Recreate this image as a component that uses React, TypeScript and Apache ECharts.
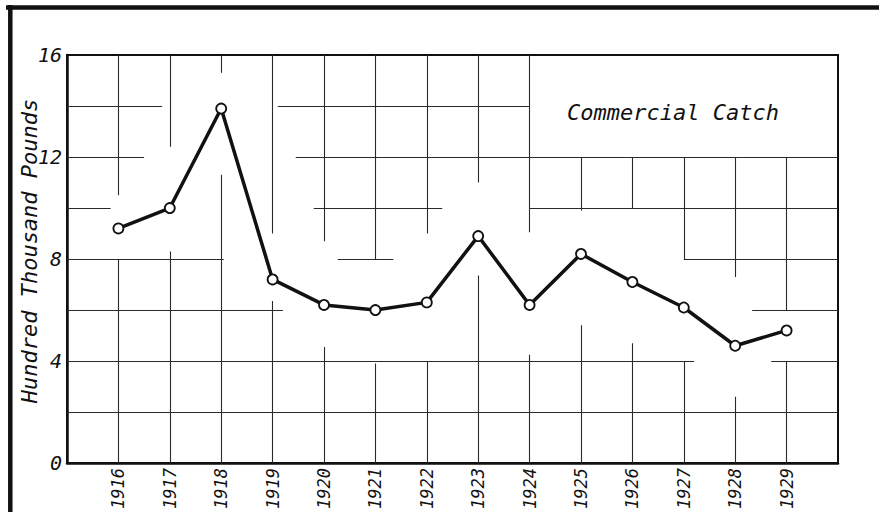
import React, { useEffect, useRef } from "react";
import * as echarts from "echarts";

// ---- Data ----
const years = [1916, 1917, 1918, 1919, 1920, 1921, 1922, 1923, 1924, 1925, 1926, 1927, 1928, 1929];
const catchValues = [9.2, 10.0, 13.9, 7.2, 6.2, 6.0, 6.3, 8.9, 6.2, 8.2, 7.1, 6.1, 4.6, 5.2];
const yTicks = [0, 4, 8, 12, 16];
const chartLabel = "Commercial Catch";
const yAxisName = "Hundred Thousand Pounds";

// Broken (hand-drawn) grid: vertical segments [year, fromValue, toValue]
const vGridSegments: [number, number, number][] = [
  [1916, 10.5, 16], [1916, 0, 8],
  [1917, 12.4, 16], [1917, 0, 8.3],
  [1918, 15.3, 16], [1918, 0, 11.3],
  [1919, 9.0, 16], [1919, 0, 6.35],
  [1920, 8.7, 16], [1920, 0, 4.55],
  [1921, 8.0, 16], [1921, 0, 3.9],
  [1922, 9.0, 16], [1922, 0, 4.0],
  [1923, 11.0, 16], [1923, 0, 7.35],
  [1924, 9.05, 16], [1924, 0, 4.25],
  [1925, 9.9, 12], [1925, 0, 5.4],
  [1926, 10.0, 12], [1926, 0, 4.7],
  [1927, 8.0, 12], [1927, 0, 4.0],
  [1928, 7.3, 12], [1928, 0, 2.6],
  [1929, 6.0, 12], [1929, 0, 4.0],
];
// horizontal segments [value, fromYear, toYear]
const hGridSegments: [number, number, number][] = [
  [14, 1915, 1916.85], [14, 1919.1, 1924],
  [12, 1915, 1916.5], [12, 1919.45, 1930],
  [10, 1915, 1915.85], [10, 1919.8, 1922.3], [10, 1924, 1930],
  [8, 1915, 1918.05], [8, 1920.27, 1921.35], [8, 1927, 1930],
  [6, 1915, 1919.2], [6, 1928.33, 1930],
  [4, 1915, 1927.2], [4, 1928.7, 1930],
  [2, 1915, 1930],
];

const LETTER_FONT = "'DejaVu Sans Mono', monospace";

export default function App() {
  const ref = useRef<HTMLDivElement>(null);

  useEffect(() => {
    if (!ref.current) return;
    const chart = echarts.init(ref.current, null, { renderer: "svg" });

    const gridLines = [
      ...vGridSegments.map(([x, a, b]) => ({ coords: [[x, a], [x, b]] })),
      ...hGridSegments.map(([y, a, b]) => ({ coords: [[a, y], [b, y]] })),
    ];

    chart.setOption({
      animation: false,
      backgroundColor: "#ffffff",
      grid: {
        left: 67,
        top: 55,
        right: 41,
        bottom: 47,
        show: true,
        borderColor: "#111",
        borderWidth: 2,
        backgroundColor: "transparent",
      },
      xAxis: {
        type: "value",
        min: 1915,
        max: 1930,
        interval: 1,
        axisLine: { show: true, lineStyle: { color: "#111", width: 2.5 } },
        axisTick: { show: false },
        splitLine: { show: false },
        axisLabel: {
          rotate: 90,
          margin: 5,
          fontFamily: LETTER_FONT,
          fontStyle: "italic",
          fontSize: 17,
          color: "#111",
          formatter: (v: number) => (years.includes(v) ? String(v) : ""),
        },
      },
      yAxis: {
        type: "value",
        min: yTicks[0],
        max: yTicks[yTicks.length - 1],
        interval: 4,
        axisLine: { show: true, lineStyle: { color: "#111", width: 2.5 } },
        axisTick: { show: false },
        splitLine: { show: false },
        axisLabel: {
          margin: 5,
          fontFamily: LETTER_FONT,
          fontStyle: "italic",
          fontSize: 20,
          color: "#111",
        },
      },
      graphic: [
        {
          type: "line",
          shape: { x1: 6, y1: 7.5, x2: 879, y2: 7.5 },
          style: { stroke: "#111", lineWidth: 4.5 },
        },
        {
          type: "line",
          shape: { x1: 10.3, y1: 5, x2: 10.3, y2: 512 },
          style: { stroke: "#111", lineWidth: 4.5 },
        },
        {
          type: "text",
          x: 29,
          y: 251,
          rotation: Math.PI / 2,
          style: {
            text: yAxisName,
            fontFamily: LETTER_FONT,
            fontStyle: "italic",
            fontSize: 22,
            fill: "#111",
            textAlign: "center",
            textVerticalAlign: "middle",
          },
        },
        {
          type: "text",
          x: 673,
          y: 112,
          style: {
            text: chartLabel,
            fontFamily: LETTER_FONT,
            fontStyle: "italic",
            fontSize: 22,
            fill: "#111",
            textAlign: "center",
            textVerticalAlign: "middle",
          },
        },
      ],
      series: [
        {
          type: "lines",
          coordinateSystem: "cartesian2d",
          polyline: false,
          silent: true,
          z: 1,
          lineStyle: { color: "#2a2a2a", width: 1.1, opacity: 1 },
          data: gridLines,
        },
        {
          type: "line",
          z: 5,
          data: years.map((y, i) => [y, catchValues[i]]),
          symbol: "circle",
          symbolSize: 10,
          showSymbol: true,
          lineStyle: { color: "#111", width: 3.5 },
          itemStyle: { color: "#ffffff", borderColor: "#111", borderWidth: 1.8 },
        },
      ],
    });

    return () => chart.dispose();
  }, []);

  return (
    <div
      ref={ref}
      style={{ position: "fixed", left: 0, top: 0, width: 879, height: 512, background: "#fff" }}
    />
  );
}
